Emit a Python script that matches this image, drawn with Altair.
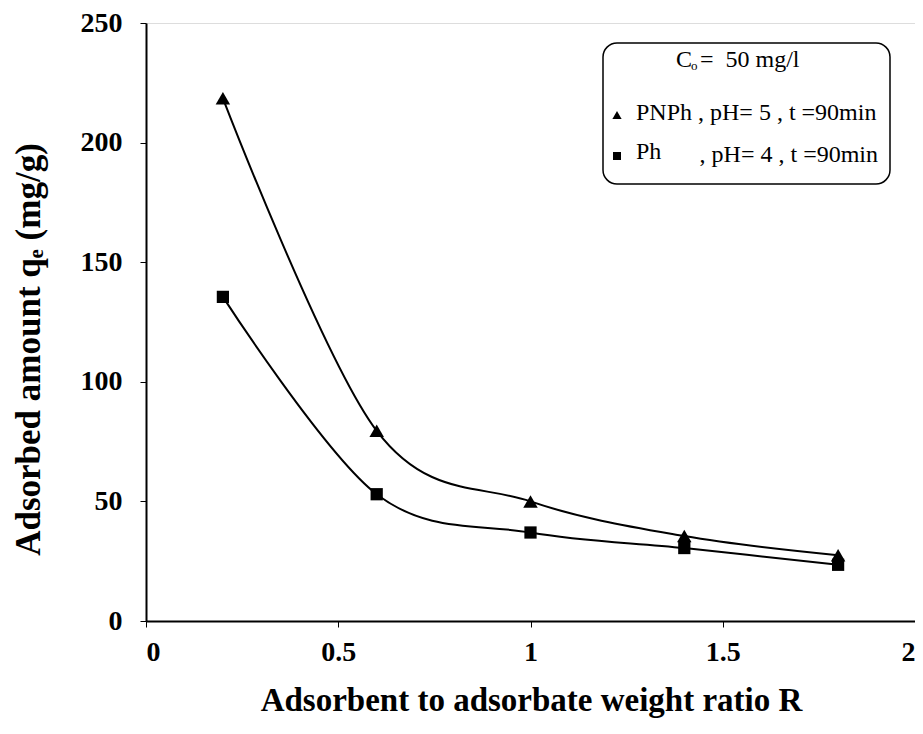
import altair as alt
import pandas as pd

ratio = [0.2, 0.6, 1.0, 1.4, 1.8]
pnph = [218.5, 79.5, 50.0, 35.5, 27.5]
ph = [135.5, 53.0, 37.0, 30.5, 23.5]
series_names = ["PNPh", "Ph"]
x_ticks = [0, 0.5, 1, 1.5, 2]
y_ticks = [0, 50, 100, 150, 200, 250]

rows = []
for name, vals in zip(series_names, [pnph, ph]):
    for r, v in zip(ratio, vals):
        rows.append({"series": name, "R": r, "q": v})
df = pd.DataFrame(rows)

FONT = "Liberation Serif"
W, H = 769, 598

xs = alt.Scale(domain=[0, 2], nice=False, zero=False)
ys = alt.Scale(domain=[0, 250], nice=False)

xax = alt.Axis(values=x_ticks, title="Adsorbent to adsorbate weight ratio R",
               labelFont=FONT, labelFontSize=28, labelFontWeight="bold", labelColor="black",
               labelPadding=11, tickSize=6, tickColor="black", domainColor="black", domainWidth=2,
               tickWidth=1, grid=False, labelExpr="format(datum.value, '~g')",
               titleFont=FONT, titleFontSize=33, titleFontWeight="bold", titleColor="black",
               titleX=W / 2 + 0.5, titleY=79, titleBaseline="middle", titleAlign="center")
yax = alt.Axis(values=y_ticks, title="Adsorbed amount qₑ (mg/g)",
               labelFont=FONT, labelFontSize=28, labelFontWeight="bold", labelColor="black",
               labelPadding=18, tickSize=6, tickColor="black", domainColor="black", domainWidth=2,
               tickWidth=1, grid=False,
               titleFont=FONT, titleFontSize=35, titleFontWeight="bold", titleColor="black",
               titleX=-118, titleY=326, titleAngle=270, titleBaseline="middle", titleAlign="center")

base = alt.Chart(df)
lines = base.mark_line(color="black", strokeWidth=2, interpolate="cardinal").encode(
    x=alt.X("R:Q", scale=xs, axis=xax),
    y=alt.Y("q:Q", scale=ys, axis=yax),
    detail="series:N",
)
pts = base.mark_point(filled=True, color="black", opacity=1).encode(
    x=alt.X("R:Q", scale=xs),
    y=alt.Y("q:Q", scale=ys),
    shape=alt.Shape("series:N", scale=alt.Scale(domain=series_names, range=["triangle-up", "square"]), legend=None),
    size=alt.Size("series:N", scale=alt.Scale(domain=series_names, range=[210, 150]), legend=None),
)

# legend box (pixel positions relative to plot area)
one = pd.DataFrame({"a": [0]})
lb = alt.Chart(one)
box = lb.mark_rect(fill="white", stroke="black", strokeWidth=1.5, cornerRadius=14).encode(
    x=alt.value(457), x2=alt.value(744), y=alt.value(20), y2=alt.value(161))
LF = 24
t_c = lb.mark_text(font=FONT, fontSize=LF, align="left", baseline="middle", color="black").encode(
    x=alt.value(530), y=alt.value(37), text=alt.value("C"))
t_o = lb.mark_text(font=FONT, fontSize=13, align="left", baseline="middle", color="black").encode(
    x=alt.value(545), y=alt.value(43), text=alt.value("o"))
t_eq = lb.mark_text(font=FONT, fontSize=LF, align="left", baseline="middle", color="black").encode(
    x=alt.value(554), y=alt.value(37), text=alt.value("= \u00a050 mg/l"))
m1 = lb.mark_point(shape="triangle-up", filled=True, color="black", opacity=1, size=85).encode(
    x=alt.value(471), y=alt.value(92))
t1 = lb.mark_text(font=FONT, fontSize=LF, align="left", baseline="middle", color="black").encode(
    x=alt.value(490), y=alt.value(90), text=alt.value("PNPh , pH= 5 , t =90min"))
m2 = lb.mark_point(shape="square", filled=True, color="black", opacity=1, size=64).encode(
    x=alt.value(471), y=alt.value(133))
t2a = lb.mark_text(font=FONT, fontSize=LF, align="left", baseline="middle", color="black").encode(
    x=alt.value(490), y=alt.value(129), text=alt.value("Ph"))
t2b = lb.mark_text(font=FONT, fontSize=LF, align="right", baseline="middle", color="black").encode(
    x=alt.value(732), y=alt.value(132), text=alt.value(", pH= 4 , t =90min"))

chart = alt.layer(lines, pts, box, t_c, t_o, t_eq, m1, t1, m2, t2a, t2b).properties(
    width=W, height=H,
    autosize=alt.AutoSizeParams(type="none"),
    padding={"left": 138, "top": 15, "right": 0, "bottom": 104},
).configure_view(stroke="black", strokeWidth=2).configure(background="white")

chart.save("out.html", embed_options={"renderer": "svg", "actions": False})
